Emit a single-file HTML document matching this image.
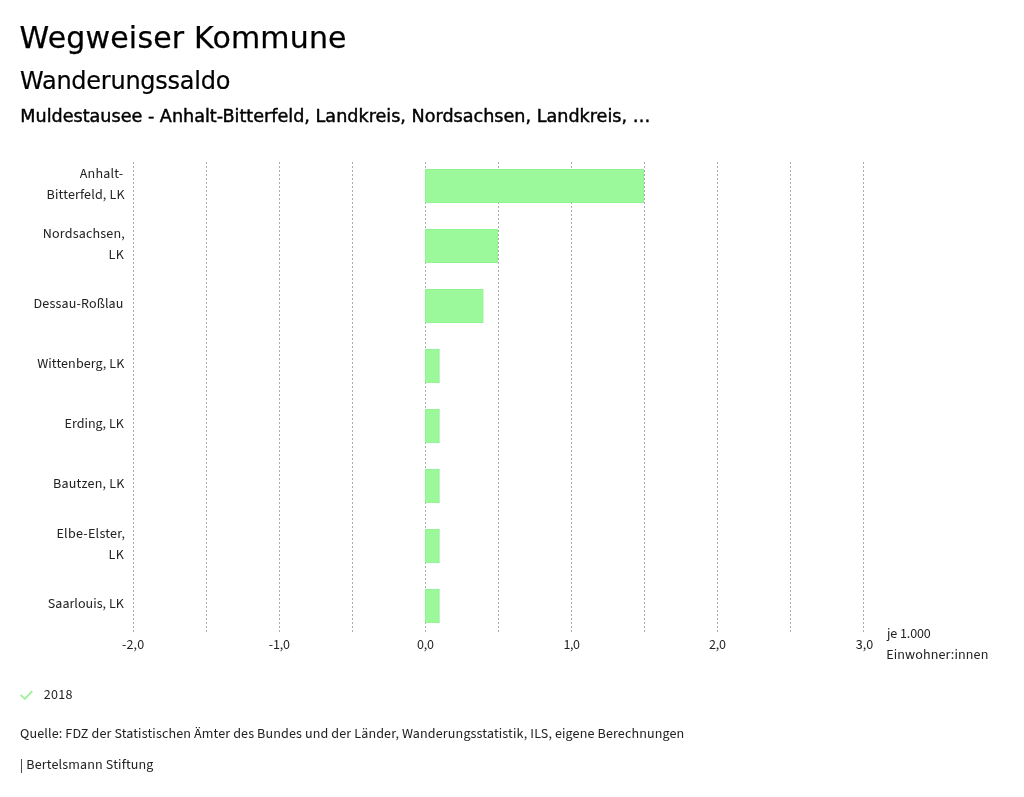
<!DOCTYPE html>
<html lang="de">
<head>
<meta charset="utf-8">
<title>Wegweiser Kommune – Wanderungssaldo</title>
<style>
html,body{margin:0;padding:0;background:#fff;}
body{width:1024px;height:797px;position:relative;overflow:hidden;}
svg{position:absolute;left:0;top:0;display:block;will-change:transform;}
.dv{font-family:"DejaVu Sans","Liberation Sans",sans-serif;fill:#000;}
.ss{font-family:"Source Sans 3","Source Sans Pro","Liberation Sans",sans-serif;font-size:14px;fill:#222;}
</style>
</head>
<body>
<svg width="1024" height="797" viewBox="0 0 1024 797">
  <!-- Header -->
  <text class="dv" x="19.6" y="48" letter-spacing="0.175" font-size="30" stroke="#000" stroke-width="0.25">Wegweiser Kommune</text>
  <text class="dv" x="20.0" y="89" letter-spacing="-0.257" font-size="24" stroke="#000" stroke-width="0.2">Wanderungssaldo</text>
  <text class="dv" x="20.3" y="122" font-size="17.6" stroke="#000" stroke-width="0.45">Muldestausee - Anhalt-Bitterfeld, Landkreis, Nordsachsen, Landkreis, …</text>

  <!-- Gridlines -->
  <g stroke="#aaa" stroke-width="1" stroke-dasharray="2,2" fill="none">
    <line x1="133.5" y1="162" x2="133.5" y2="632"/>
    <line x1="206.5" y1="162" x2="206.5" y2="632"/>
    <line x1="279.5" y1="162" x2="279.5" y2="632"/>
    <line x1="352.5" y1="162" x2="352.5" y2="632"/>
    <line x1="425.5" y1="162" x2="425.5" y2="632"/>
    <line x1="498.5" y1="162" x2="498.5" y2="632"/>
    <line x1="571.5" y1="162" x2="571.5" y2="632"/>
    <line x1="644.5" y1="162" x2="644.5" y2="632"/>
    <line x1="717.5" y1="162" x2="717.5" y2="632"/>
    <line x1="790.5" y1="162" x2="790.5" y2="632"/>
    <line x1="863.5" y1="162" x2="863.5" y2="632"/>
  </g>
  <!-- Bars -->
  <g fill="#9bf99b" stroke="#91f491" stroke-width="1">
    <rect x="425.5" y="169.5" width="218.0" height="33"/>
    <rect x="425.5" y="229.5" width="72.0" height="33"/>
    <rect x="425.5" y="289.5" width="57.4" height="33"/>
    <rect x="425.5" y="349.5" width="13.6" height="33"/>
    <rect x="425.5" y="409.5" width="13.6" height="33"/>
    <rect x="425.5" y="469.5" width="13.6" height="33"/>
    <rect x="425.5" y="529.5" width="13.6" height="33"/>
    <rect x="425.5" y="589.5" width="13.6" height="33"/>
  </g>

  <!-- Category labels -->
  <g text-anchor="end">
    <text class="ss" x="123.43" y="178" letter-spacing="0.2">Anhalt-</text>
    <text class="ss" x="124.66" y="199" letter-spacing="0.154">Bitterfeld, LK</text>
    <text class="ss" x="125.0" y="238" letter-spacing="0.182">Nordsachsen,</text>
    <text class="ss" x="124.32" y="259" letter-spacing="0.4">LK</text>
    <text class="ss" x="123.58" y="308" letter-spacing="0.15">Dessau-Roßlau</text>
    <text class="ss" x="124.42" y="368" letter-spacing="0.108">Wittenberg, LK</text>
    <text class="ss" x="123.83" y="428">Erding, LK</text>
    <text class="ss" x="124.67" y="488" letter-spacing="0.22">Bautzen, LK</text>
    <text class="ss" x="125.37" y="538" letter-spacing="0.273">Elbe-Elster,</text>
    <text class="ss" x="124.32" y="559" letter-spacing="0.4">LK</text>
    <text class="ss" x="123.96" y="608" letter-spacing="0.033">Saarlouis, LK</text>
  </g>

  <!-- Axis ticks -->
  <text class="ss" text-anchor="middle" x="133.15" y="649" letter-spacing="0.133">-2,0</text>
  <text class="ss" text-anchor="middle" x="279.28" y="649" letter-spacing="-0.2">-1,0</text>
  <text class="ss" text-anchor="middle" x="425.41" y="649" letter-spacing="-0.2">0,0</text>
  <text class="ss" text-anchor="middle" x="571.5" y="649" letter-spacing="-0.4">1,0</text>
  <text class="ss" text-anchor="middle" x="717.41" y="649" letter-spacing="-0.2">2,0</text>
  <text class="ss" text-anchor="middle" x="864.5" y="649">3,0</text>
  <text class="ss" x="887.0" y="638" letter-spacing="-0.1">je 1.000</text>
  <text class="ss" x="886.2" y="659" letter-spacing="0.129">Einwohner:innen</text>

  <!-- Legend -->
  <path d="M20.6 694.9 L24.9 698.9 L32.3 691.1" stroke="#95f195" stroke-width="1.6" fill="none"/>
  <text class="ss" x="43.8" y="699" letter-spacing="0.267">2018</text>

  <!-- Footer -->
  <text class="ss" x="20.0" y="738" letter-spacing="0.138">Quelle: FDZ der Statistischen Ämter des Bundes und der Länder, Wanderungsstatistik, ILS, eigene Berechnungen</text>
  <text class="ss" x="19.8" y="769" letter-spacing="0.155">| Bertelsmann Stiftung</text>
</svg>
</body>
</html>
